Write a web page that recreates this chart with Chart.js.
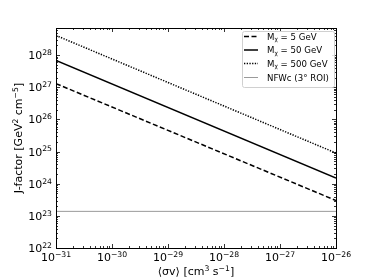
<!DOCTYPE html>
<html>
<head>
<meta charset="utf-8">
<script src="https://cdn.jsdelivr.net/npm/chart.js@4/dist/chart.umd.min.js"></script>
<style>
html,body{margin:0;padding:0;background:#fff;}
#wrap{width:374px;height:280px;position:relative;}
</style>
</head>
<body>
<div id="wrap"><canvas id="c" width="374" height="280"></canvas></div>
<script>
// ---- data ----
const sigmaV = [1e-31, 1e-26];
const jM5 = [1.3e27, 3.0e23];
const jM50 = [6.9e27, 1.5e24];
const jM500 = [4.1e28, 9.0e24];
const jNFW = [1.38e23, 1.38e23];
const seriesLabels = ['M_χ = 5 GeV', 'M_χ = 50 GeV', 'M_χ = 500 GeV', 'NFWc (3° ROI)'];
const xTickExps = [-31, -30, -29, -28, -27, -26];
const yTickExps = [22, 23, 24, 25, 26, 27, 28];
const yMin = 1e22, yMax = 7e28;
const xTitleParts = [{t:'⟨σv⟩ [cm'},{t:'3',sup:1},{t:' s'},{t:'−1',sup:1},{t:']'}];
const yTitleParts = [{t:'J-factor [GeV'},{t:'2',sup:1},{t:' cm'},{t:'−5',sup:1},{t:']'}];

const FONT = 'DejaVu Sans';
const FS = 11, SFS = 7.7, SUPRAISE = 4.2;

function isPow10(v){ const l = Math.log10(v); return Math.abs(l - Math.round(l)) < 1e-6; }
function pts(xs, ys){ return xs.map((x,i)=>({x:x, y:ys[i]})); }
function minorValues(e0, e1){
  const out = [];
  for(let e=e0; e<e1; e++){ for(let k=1;k<=9;k++) out.push(k*Math.pow(10,e)); }
  out.push(Math.pow(10,e1));
  return out;
}
function powParts(e){ return [{t:'10'},{t:String(e).replace('-','−'),sup:1}]; }
function measure(ctx, parts){
  let w = 0;
  parts.forEach(p=>{ ctx.font = (p.sup?SFS:FS)+'px '+FONT; w += ctx.measureText(p.t).width; });
  return w;
}
// draw parts with baseline y, starting at x
function drawParts(ctx, parts, x, y){
  ctx.textBaseline = 'alphabetic';
  ctx.textAlign = 'left';
  parts.forEach(p=>{
    ctx.font = (p.sup?SFS:FS)+'px '+FONT;
    ctx.fillText(p.t, x, p.sup ? y - SUPRAISE : y);
    x += ctx.measureText(p.t).width;
  });
}

const axisTextPlugin = {
  id:'axisText',
  afterDraw(chart){
    const ctx = chart.ctx, a = chart.chartArea;
    const xs = chart.scales.x, ys = chart.scales.y;
    ctx.save();
    ctx.fillStyle = '#000';
    // x tick labels
    xTickExps.forEach(e=>{
      const px = xs.getPixelForValue(Math.pow(10,e));
      const parts = powParts(e);
      const w = measure(ctx, parts);
      drawParts(ctx, parts, px - w/2, a.bottom + 13);
    });
    // y tick labels
    yTickExps.forEach(e=>{
      const py = ys.getPixelForValue(Math.pow(10,e));
      const parts = powParts(e);
      const w = measure(ctx, parts);
      drawParts(ctx, parts, a.left - 4 - w, py + 4);
    });
    // x title
    let w = measure(ctx, xTitleParts);
    drawParts(ctx, xTitleParts, (a.left + a.right)/2 - w/2, 275);
    // y title
    w = measure(ctx, yTitleParts);
    ctx.save();
    ctx.translate(22, (a.top + a.bottom)/2);
    ctx.rotate(-Math.PI/2);
    drawParts(ctx, yTitleParts, -w/2, 0);
    ctx.restore();
    ctx.restore();
  }
};

const tickPlugin = {
  id:'insideTicks',
  afterDatasetsDraw(chart){
    const ctx = chart.ctx, a = chart.chartArea;
    const xs = chart.scales.x, ys = chart.scales.y;
    ctx.save();
    ctx.strokeStyle = '#000';
    ctx.lineWidth = 0.8;
    minorValues(-31,-26).forEach(v=>{
      const px = Math.round(xs.getPixelForValue(v)) + 0.5;
      const L = isPow10(v) ? 4 : 2;
      ctx.beginPath();
      ctx.moveTo(px, a.bottom); ctx.lineTo(px, a.bottom - L);
      ctx.moveTo(px, a.top); ctx.lineTo(px, a.top + L);
      ctx.stroke();
    });
    minorValues(22,28).concat([2e28,3e28,4e28,5e28,6e28,7e28]).forEach(v=>{
      if (v < yMin || v > yMax) return;
      const py = Math.round(ys.getPixelForValue(v)) + 0.5;
      const L = isPow10(v) ? 4 : 2;
      ctx.beginPath();
      ctx.moveTo(a.left, py); ctx.lineTo(a.left + L, py);
      ctx.moveTo(a.right, py); ctx.lineTo(a.right - L, py);
      ctx.stroke();
    });
    ctx.lineWidth = 1;
    ctx.strokeRect(Math.round(a.left)+0.5, Math.round(a.top)+0.5, Math.round(a.right-a.left), Math.round(a.bottom-a.top));
    ctx.restore();
  }
};

const legendPlugin = {
  id:'innerLegend',
  afterDraw(chart){
    const ctx = chart.ctx;
    const bx = 242, by = 31, bw = 92, bh = 56;
    ctx.save();
    ctx.fillStyle = 'rgba(255,255,255,0.85)';
    ctx.strokeStyle = '#d0d0d0';
    ctx.lineWidth = 1;
    ctx.beginPath();
    if (ctx.roundRect) ctx.roundRect(bx+0.5, by+0.5, bw, bh, 2); else ctx.rect(bx+0.5, by+0.5, bw, bh);
    ctx.fill(); ctx.stroke();
    const rows = [36.5, 50, 63.5, 77.5];
    const LF = 8.6;
    chart.data.datasets.forEach((ds,i)=>{
      const y = rows[i];
      ctx.strokeStyle = ds.borderColor;
      ctx.lineWidth = ds.borderWidth;
      ctx.setLineDash(ds.borderDash || []);
      ctx.beginPath(); ctx.moveTo(244, y); ctx.lineTo(258, y); ctx.stroke();
      ctx.setLineDash([]);
      ctx.fillStyle = '#000';
      ctx.textBaseline = 'alphabetic';
      ctx.textAlign = 'left';
      const base = y + 3;
      const lab = seriesLabels[i];
      let x = 267;
      if (lab.startsWith('M_χ')) {
        ctx.font = LF+'px ' + FONT;
        ctx.fillText('M', x, base); x += ctx.measureText('M').width;
        ctx.font = (LF*0.7)+'px ' + FONT;
        ctx.fillText('χ', x, base + 1.8); x += ctx.measureText('χ').width;
        ctx.font = LF+'px ' + FONT;
        ctx.fillText(lab.slice(3), x, base);
      } else {
        ctx.font = LF+'px ' + FONT;
        ctx.fillText(lab, x, base);
      }
    });
    ctx.restore();
  }
};

new Chart(document.getElementById('c'), {
  type:'line',
  data:{
    datasets:[
      {label:seriesLabels[0], data:pts(sigmaV,jM5), borderColor:'#000', borderWidth:1.5, borderDash:[5,2.5], pointRadius:0, fill:false, tension:0},
      {label:seriesLabels[1], data:pts(sigmaV,jM50), borderColor:'#000', borderWidth:1.5, pointRadius:0, fill:false, tension:0},
      {label:seriesLabels[2], data:pts(sigmaV,jM500), borderColor:'#000', borderWidth:1.5, borderDash:[1.3,1.4], pointRadius:0, fill:false, tension:0},
      {label:seriesLabels[3], data:pts(sigmaV,jNFW), borderColor:'#9a9a9a', borderWidth:1, pointRadius:0, fill:false, tension:0}
    ]
  },
  options:{
    responsive:false,
    animation:false,
    layout:{padding:{left:0, right:38, top:28, bottom:0}},
    plugins:{legend:{display:false}, tooltip:{enabled:false}},
    scales:{
      x:{
        type:'logarithmic', min:1e-31, max:1e-26,
        afterBuildTicks(s){ s.ticks = xTickExps.map(e=>({value:Math.pow(10,e)})); },
        afterFit(s){ s.height = 32; },
        grid:{display:false, drawTicks:false},
        border:{display:false},
        ticks:{display:false},
        title:{display:false}
      },
      y:{
        type:'logarithmic', min:yMin, max:yMax,
        afterBuildTicks(s){ s.ticks = yTickExps.map(e=>({value:Math.pow(10,e)})); },
        afterFit(s){ s.width = 56; },
        grid:{display:false, drawTicks:false},
        border:{display:false},
        ticks:{display:false},
        title:{display:false}
      }
    }
  },
  plugins:[tickPlugin, legendPlugin, axisTextPlugin]
});
</script>
</body>
</html>
